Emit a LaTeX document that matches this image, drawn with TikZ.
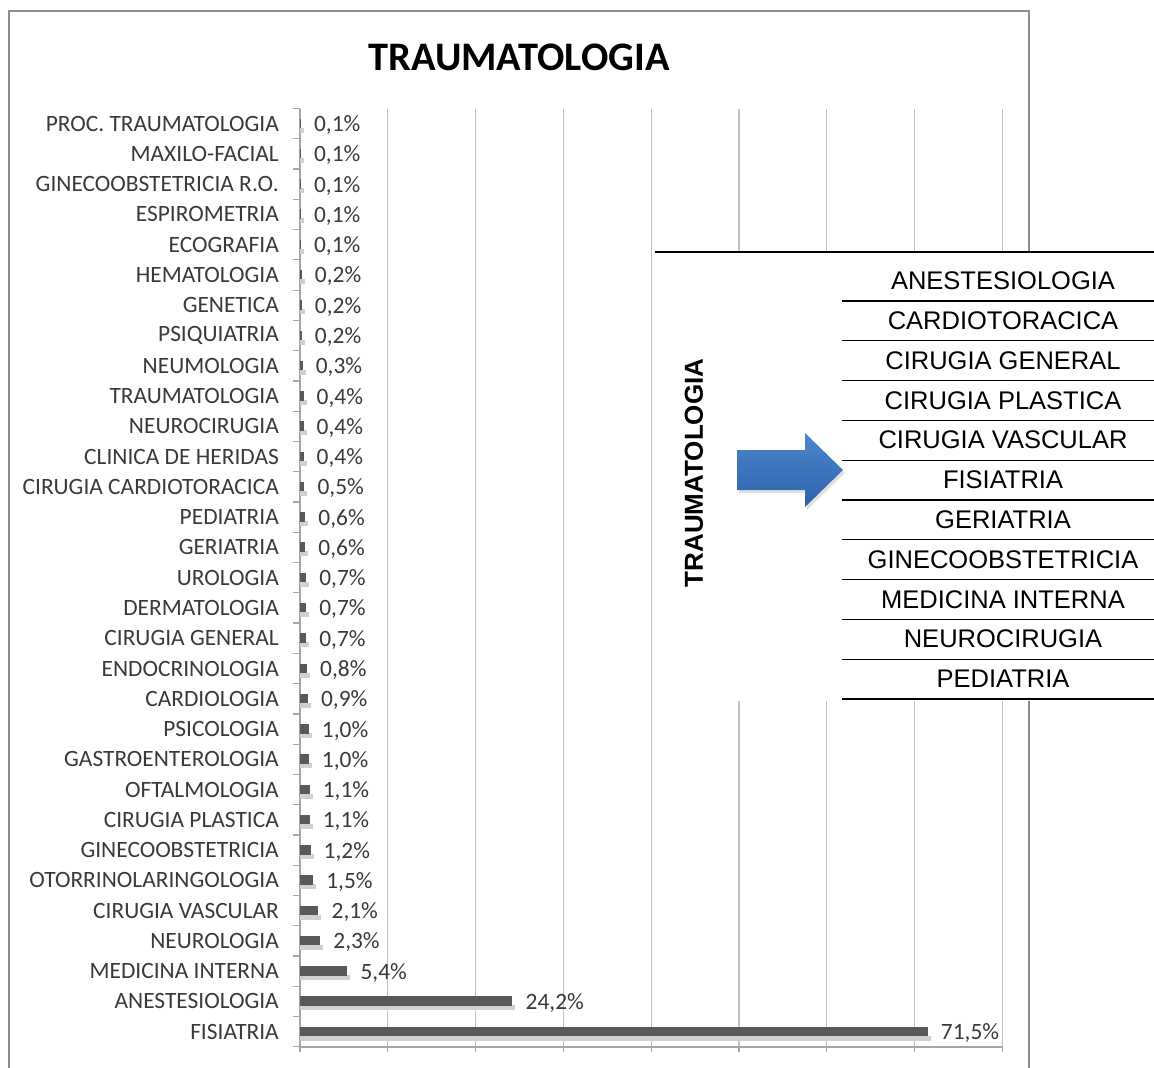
\documentclass[tikz,border=0pt]{standalone}
\usepackage{fontspec}
\setmainfont{Liberation Sans}
\newfontfamily\calib{Carlito}
\definecolor{framecol}{HTML}{8C8C8C}
\definecolor{gridcol}{HTML}{C0C0C0}
\definecolor{axiscol}{HTML}{A6A6A6}
\definecolor{barcol}{HTML}{595959}
\definecolor{barshade}{HTML}{D0D0D0}
\definecolor{labcol}{HTML}{3A3A3A}
\definecolor{arrowtop}{HTML}{4B86CD}
\definecolor{arrowbot}{HTML}{2F63AA}
\tikzset{
  catlab/.style={anchor=east, inner sep=0pt, text=labcol, font=\calib\fontsize{23.4}{27}\selectfont},
  vallab/.style={anchor=west, inner sep=0pt, text=labcol, font=\calib\fontsize{23.4}{27}\selectfont},
  tabtxt/.style={inner sep=0pt, text=black, font=\fontsize{25.5}{30}\selectfont},
  tabline/.style={draw=black, line width=1.3pt},
  gridline/.style={draw=gridcol, line width=1.2pt},
  axisline/.style={draw=axiscol, line width=1.2pt}
}
\begin{document}
\begin{tikzpicture}[x=1pt,y=-1pt]
\clip (0,0) rectangle (1154,1068);
\fill[white] (0,0) rectangle (1154,1068);
% outer frame
\draw[framecol, line width=1.5pt] (9,1090) -- (9,11) -- (1029,11) -- (1029,1090);
% title
\node[font=\calib\bfseries\fontsize{40.5}{46}\selectfont, inner sep=0pt] (title) at (519,57) {TRAUMATOLOGIA};
% gridlines
\foreach \k in {1,...,8} {
  \draw[gridline] ({300+87.8*\k},108.5) -- ({300+87.8*\k},1047);
  \draw[axisline] ({300+87.8*\k},1047) -- ({300+87.8*\k},1052);
}
% axes
\draw[axisline] (300,108.5) -- (300,1047) -- (1003,1047);
\draw[axisline] (300,1047) -- (300,1052);
\foreach \i in {0,...,31} {
  \draw[axisline] (293,{108.5+30.27*\i}) -- (300,{108.5+30.27*\i});
}
% bars and labels
\foreach \name/\v/\lab [count=\i from 0] in {
  PROC. TRAUMATOLOGIA/0.1/{0,1}, MAXILO-FACIAL/0.1/{0,1}, GINECOOBSTETRICIA R.O./0.1/{0,1},
  ESPIROMETRIA/0.1/{0,1}, ECOGRAFIA/0.1/{0,1}, HEMATOLOGIA/0.2/{0,2}, GENETICA/0.2/{0,2},
  PSIQUIATRIA/0.2/{0,2}, NEUMOLOGIA/0.3/{0,3}, TRAUMATOLOGIA/0.4/{0,4}, NEUROCIRUGIA/0.4/{0,4},
  CLINICA DE HERIDAS/0.4/{0,4}, CIRUGIA CARDIOTORACICA/0.5/{0,5}, PEDIATRIA/0.6/{0,6},
  GERIATRIA/0.6/{0,6}, UROLOGIA/0.7/{0,7}, DERMATOLOGIA/0.7/{0,7}, CIRUGIA GENERAL/0.7/{0,7},
  ENDOCRINOLOGIA/0.8/{0,8}, CARDIOLOGIA/0.9/{0,9}, PSICOLOGIA/1.0/{1,0}, GASTROENTEROLOGIA/1.0/{1,0},
  OFTALMOLOGIA/1.1/{1,1}, CIRUGIA PLASTICA/1.1/{1,1}, GINECOOBSTETRICIA/1.2/{1,2},
  OTORRINOLARINGOLOGIA/1.5/{1,5}, CIRUGIA VASCULAR/2.1/{2,1}, NEUROLOGIA/2.3/{2,3},
  MEDICINA INTERNA/5.4/{5,4}, ANESTESIOLOGIA/24.2/{24,2}, FISIATRIA/71.5/{71,5}} {
  \pgfmathsetmacro{\yc}{108.5+30.27*(\i+0.5)}
  \pgfmathsetmacro{\xe}{300+8.78*\v}
  \fill[barshade] (300,{\yc+4}) rectangle ({\xe+3},{\yc+9});
  \fill[barcol] (300,{\yc-5}) rectangle (\xe,{\yc+4.5});
  \node[catlab] (cat\i) at (279,\yc) {\name};
  \node[vallab] (val\i) at ({\xe+13},{\yc+1.5}) {\lab\%};
}
% overlay panel
\fill[white] (655,252) rectangle (1160,701);
\draw[black, line width=1.3pt] (655,252) -- (1160,252);
\foreach \name [count=\k from 0] in {ANESTESIOLOGIA, CARDIOTORACICA, CIRUGIA GENERAL,
  CIRUGIA PLASTICA, CIRUGIA VASCULAR, FISIATRIA, GERIATRIA, GINECOOBSTETRICIA,
  MEDICINA INTERNA, NEUROCIRUGIA, PEDIATRIA} {
  \node[tabtxt] (t\k) at (1003,{281+39.8*\k}) {\name};
  \draw[tabline] (842,{301+39.8*\k}) -- (1160,{301+39.8*\k});
}
\node[rotate=90, inner sep=0pt, font=\bfseries\fontsize{26}{30}\selectfont] (vt) at (694,473) {TRAUMATOLOGIA};
% arrow
\fill[black, opacity=0.12] (739,453) -- (807,453) -- (807,436) -- (845,473) -- (807,510) -- (807,493) -- (739,493) -- cycle;
\shade[top color=arrowtop, bottom color=arrowbot] (737,450) -- (805,450) -- (805,433) -- (843,470) -- (805,507) -- (805,490) -- (737,490) -- cycle;
\end{tikzpicture}
\end{document}
